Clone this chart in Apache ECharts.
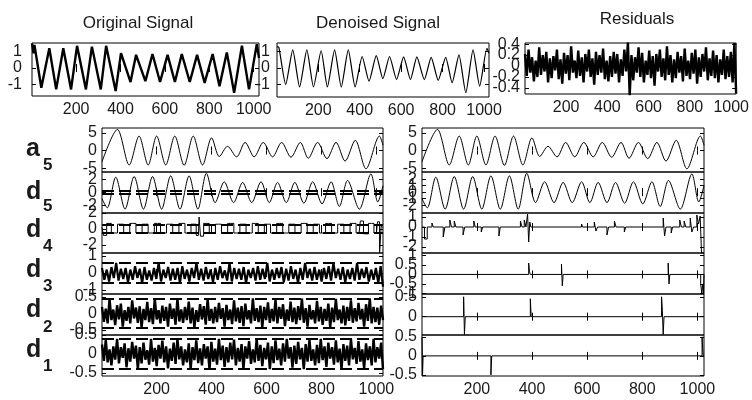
<!DOCTYPE html>
<html>
<head>
<meta charset="utf-8">
<title>Wavelet denoising</title>
<script src="https://cdn.jsdelivr.net/npm/echarts@6/dist/echarts.min.js"></script>
<style>
  html, body { margin: 0; padding: 0; background: #fff; }
  #main { width: 752px; height: 400px; }
</style>
</head>
<body>
<div id="main"></div>
<script>
// ---- data (x = sample index 1..1024) ----
var xTicks = [200, 400, 600, 800, 1000];

// top row: extrema of the signals
var original = [[1,1.5],[8,0.9],[12,1.4],[43,-1.2],[79,1.2],[110,-1.3],[142,1.2],[177,-1.3],[204,1.35],[244,-1.3],
  [271,1.3],[311,-1.3],[335,1.35],[378,-1.4],[402,0.9],[445,-0.85],[470,0.8],[512,-0.8],[544,0.85],[578,-0.85],
  [612,0.8],[645,-0.85],[676,0.85],[712,-0.85],[745,0.8],[779,-0.9],[815,0.85],[846,-1.1],[879,0.95],[912,-1.5],
  [947,1.35],[979,-1.3],[1014,1.45],[1024,0.6]];
var denoised = [[1,1.3],[10,1.25],[43,-1.0],[77,1.1],[110,-1.15],[145,1.1],[177,-1.15],[214,1.05],[244,-1.15],[279,1.1],
  [311,-1.15],[345,1.1],[378,-1.15],[412,0.7],[445,-0.8],[480,0.75],[512,-0.65],[544,0.7],[578,-0.7],[612,0.68],
  [645,-0.7],[676,0.68],[712,-0.7],[745,0.65],[779,-0.75],[815,0.65],[846,-0.9],[879,0.8],[912,-1.5],[947,1.1],
  [979,-1.1],[1014,1.2],[1024,0.9]];
var residuals = [0.22,-0.18,0.3,-0.12,0.16,-0.28,0.1,-0.2,0.34,-0.16,0.2,-0.1,0.26,-0.3,0.14,-0.22,0.18,-0.08,0.3,-0.24,
  0.12,-0.32,0.24,-0.14,0.2,-0.26,0.36,-0.12,0.1,-0.22,0.28,-0.18,0.16,-0.3,0.22,-0.1,0.3,-0.2,0.14,-0.34,
  0.26,-0.16,0.2,-0.12,0.32,-0.24,0.1,-0.28,0.18,-0.2,0.26,-0.14,0.22,-0.3,0.12,-0.18,0.3,-0.1,0.43,-0.54,
  0.2,-0.26,0.16,-0.12,0.34,-0.2,0.24,-0.3,0.1,-0.16,0.28,-0.22,0.18,-0.36,0.22,-0.1,0.3,-0.2,0.14,-0.26,
  0.36,-0.16,0.2,-0.3,0.12,-0.22,0.26,-0.12,0.18,-0.28,0.32,-0.18,0.1,-0.24,0.24,-0.14,0.3,-0.32,0.16,-0.2,
  0.22,-0.1,0.34,-0.26,0.14,-0.18,0.28,-0.22,0.2,-0.3,0.12,-0.16,0.3,-0.24,0.18,-0.2,0.26,-0.3,0.42,-0.5];

// decomposition: approximation a5 and detail d5 (same in both columns)
var a5 = [[1,-3.2],[57,6.0],[100,-4.1],[136,4.1],[169,-4.1],[200,4.1],[233,-4.1],[266,4.1],[300,-4.2],[333,4.1],
  [367,-4.1],[400,3.6],[428,-1.7],[458,1.2],[491,-1.8],[522,2.3],[555,-1.8],[588,2.3],[622,-1.8],[655,2.3],
  [689,-1.9],[723,2.3],[752,-2.2],[786,2.3],[820,-2.3],[853,2.3],[886,-3.0],[923,2.9],[962,-5.2],[1011,4.1],[1024,1.5]];
var d5 = [[1,-1.0],[20,-2.4],[51,2.3],[85,-2.6],[118,2.4],[152,-2.6],[185,2.4],[218,-2.6],[251,2.5],[285,-2.6],
  [318,2.5],[350,-2.6],[381,2.9],[413,-1.6],[446,1.6],[480,-1.6],[513,1.5],[546,-1.6],[580,1.6],[610,-1.6],
  [640,1.5],[672,-1.6],[703,1.5],[736,-1.7],[768,1.6],[802,-1.8],[835,1.6],[865,-2.2],[895,1.8],[938,-2.6],
  [980,2.8],[1005,-1.5],[1024,1.0]];

// left column: raw details d4..d1
var d4Raw = [[1,0.2],[12,-0.8],[24,0.7],[46,-0.5],[69,0.6],[91,-0.5],[113,0.7],[136,-0.5],[158,0.6],[180,-0.5],
  [203,0.7],[225,-0.5],[247,0.6],[270,-0.5],[292,0.7],[314,-0.5],[336,0.6],[352,-0.8],[357,1.5],[362,-0.9],
  [380,0.7],[403,-0.5],[425,0.6],[447,-0.5],[470,0.7],[492,-0.5],[514,0.6],[537,-0.5],[559,0.7],[581,-0.5],
  [603,0.6],[626,-0.5],[648,0.7],[670,-0.5],[692,0.6],[715,-0.5],[737,0.7],[759,-0.5],[781,0.6],[804,-0.5],
  [826,0.7],[848,-0.5],[870,0.6],[893,-0.5],[915,0.7],[937,-0.5],[946,1.0],[960,-0.6],[982,0.7],[1000,-0.5],
  [1008,0.9],[1015,-3.0],[1020,0.4],[1024,0.2]];
var d3Raw = [0.3,-0.4,0.2,-0.5,0.35,-0.3,0.6,-0.45,0.25,-0.35,0.3,-0.55,0.2,-0.4,0.4,-0.3,0.25,-0.6,0.35,-0.4,
  0.15,-0.45,0.3,-0.35,0.6,-0.5,0.2,-0.3,0.35,-0.45,0.25,-0.4,0.3,-0.6,0.4,-0.35,0.2,-0.5,0.3,-0.3,
  0.6,-0.4,0.25,-0.45,0.35,-0.35,0.2,-0.55,0.3,-0.4,0.4,-0.3,0.15,-0.45,0.6,-0.5,0.3,-0.35,0.25,-0.4,
  0.35,-0.6,0.2,-0.3,0.3,-0.45,0.4,-0.4,0.25,-0.35,0.6,-0.5,0.2,-0.4,0.3,-0.3,0.35,-0.55,0.25,-0.45,
  0.4,-0.35,0.2,-0.6,0.3,-0.4,0.6,-0.3,0.25,-0.45,0.35,-0.4,0.2,-0.5,0.3,-0.35,0.4,-0.45,0.6,-0.3,
  0.25,-0.4,0.35,-0.55,0.2,-0.35,0.3,-0.45,0.6,-0.4,0.25,-0.3,0.35,-0.5,0.2,-0.4,0.3,-0.6,0.4,-0.8];
var d2Raw = [0.2,-0.25,0.15,-0.3,0.45,-0.2,0.12,-0.35,0.25,-0.18,0.3,-0.4,0.1,-0.22,0.2,
  -0.3,0.4,-0.15,0.18,-0.28,0.22,-0.42,0.14,-0.2,0.35,-0.26,0.16,-0.32,0.45,-0.18,
  0.1,-0.3,0.24,-0.22,0.2,-0.4,0.3,-0.16,0.15,-0.34,0.46,-0.24,0.12,-0.28,0.2,
  -0.2,0.36,-0.3,0.18,-0.42,0.1,-0.25,0.28,-0.18,0.22,-0.34,0.44,-0.22,0.14,-0.3,
  0.2,-0.26,0.32,-0.16,0.16,-0.4,0.26,-0.2,0.12,-0.32,0.4,-0.24,0.18,-0.28,0.22,
  -0.38,0.3,-0.18,0.1,-0.3,0.46,-0.22,0.16,-0.26,0.24,-0.42,0.2,-0.2,0.34,-0.28,
  0.14,-0.24,0.42,-0.3,0.2,-0.16,0.28,-0.38,0.12,-0.22,0.36,-0.26,0.18,-0.32,0.22,
  -0.2,0.45,-0.28,0.16,-0.4,0.26,-0.18,0.1,-0.3,0.38,-0.24,0.2,-0.34,0.14,-0.22,
  0.3,-0.42,0.18,-0.26,0.44,-0.2,0.12,-0.3,0.24,-0.36,0.2,-0.22,0.4,-0.28,0.16,
  -0.24,0.32,-0.18,0.14,-0.4,0.28,-0.22,0.46,-0.3,0.2,-0.26,0.18,-0.34,0.24,-0.2];
var d1Raw = [0.25,-0.18,0.38,-0.22,0.12,-0.3,0.2,-0.15,0.4,-0.25,0.18,-0.1,0.28,-0.35,0.15,
  -0.2,0.32,-0.12,0.22,-0.4,0.18,-0.25,0.3,-0.15,0.1,-0.28,0.4,-0.2,0.16,-0.32,
  0.24,-0.12,0.35,-0.22,0.2,-0.38,0.14,-0.18,0.3,-0.26,0.4,-0.14,0.2,-0.3,0.12,
  -0.22,0.28,-0.4,0.18,-0.16,0.36,-0.24,0.15,-0.3,0.26,-0.12,0.2,-0.42,0.32,-0.2,
  0.14,-0.28,0.4,-0.16,0.22,-0.34,0.18,-0.22,0.3,-0.14,0.38,-0.3,0.16,-0.2,0.26,
  -0.4,0.2,-0.12,0.34,-0.26,0.12,-0.22,0.4,-0.18,0.24,-0.32,0.16,-0.14,0.3,-0.4,
  0.2,-0.24,0.36,-0.16,0.14,-0.3,0.28,-0.2,0.4,-0.12,0.18,-0.36,0.22,-0.26,0.32,
  -0.14,0.16,-0.4,0.26,-0.2,0.38,-0.18,0.12,-0.3,0.24,-0.24,0.4,-0.16,0.2,-0.34,
  0.3,-0.12,0.18,-0.28,0.36,-0.22,0.14,-0.4,0.26,-0.18,0.22,-0.3,0.4,-0.14,0.16,
  -0.26,0.34,-0.2,0.12,-0.38,0.28,-0.16,0.2,-0.3,0.4,-0.22,0.18,-0.12,0.3,-0.4];
// thresholds drawn dashed on the left column: d5, d4, d3, d2, d1
var thresholds = [0.25, 0.5, 0.6, 0.44, 0.4];

// right column: thresholded details, [x, level held until next x]
var d4Thr = [[1,0],[10,-1.2],[20,0],[37,0.4],[42,0],[78,-1.0],[84,0],[102,0.7],[108,0],[118,0.6],[124,0],
  [150,-0.8],[156,0],[189,0.6],[194,0],[216,-0.5],[221,0],[280,-0.9],[285,0],[358,0.6],[364,0],[372,0.7],
  [378,0],[384,1.3],[388,-1.5],[392,0.5],[396,0],[580,0.3],[583,0],[626,0.5],[632,-0.4],[638,0],[672,-0.8],
  [678,0],[699,0.6],[705,0],[735,-0.5],[740,0],[876,0.9],[881,-0.9],[886,0],[905,-0.6],[910,0],[936,0.7],
  [942,0],[952,0.6],[958,0],[974,0.9],[980,-0.5],[986,0],[998,1.2],[1004,0.3],[1010,1.1],[1015,-2.6],[1024,-2.6]];
var d3Thr = [[1,0],[388,0.6],[391,0.15],[394,0],[507,0.55],[510,-0.6],[513,0],[894,0.6],[897,-0.5],[900,0],
  [1012,-0.5],[1016,-1.0],[1019,-0.5],[1022,-1.0],[1024,0]];
var d2Thr = [[1,0],[152,0.5],[155,-0.45],[158,0],[394,0.45],[397,0],[870,0.5],[873,0.15],[876,-0.45],[879,0],[1024,0]];
var d1Thr = [[1,0.5],[3,-0.5],[5,0],[251,-0.5],[254,0],[1017,0.5],[1021,0],[1024,0]];

// ---- chart ----
var FONT = '"Liberation Sans", Arial, sans-serif';
var TXT = '#1a1a1a';
var chart = echarts.init(document.getElementById('main'));

// sample positions for evenly sampled coefficient lists
function spread(arr) {
    return arr.map(function (v, i) { return [1 + i * 1023 / (arr.length - 1), v]; });
}
function plain(v) { return String(v); }

var grids = [], xAxes = [], yAxes = [], series = [];

function panel(box, yRange, yTicks, xLabels, lines, yMargin) {
    var gi = grids.length;
    grids.push({
        left: box[0], top: box[1], width: box[2], height: box[3],
        show: true, borderColor: '#000', borderWidth: 1, containLabel: false
    });
    var tick = { inside: true, length: 4, lineStyle: { color: '#000' } };
    var label = { fontFamily: FONT, fontSize: 16, color: TXT, formatter: plain, hideOverlap: false };
    var xi = xAxes.length, yi = yAxes.length;
    xAxes.push({
        gridIndex: gi, type: 'value', min: 1, max: 1024, position: 'bottom',
        splitLine: { show: false }, axisLine: { show: false },
        axisTick: Object.assign({ customValues: xTicks }, tick),
        axisLabel: Object.assign({ show: xLabels, customValues: xTicks, margin: 6 }, label)
    });
    xAxes.push({
        gridIndex: gi, type: 'value', min: 1, max: 1024, position: 'top',
        splitLine: { show: false }, axisLine: { show: false },
        axisTick: Object.assign({ customValues: xTicks }, tick),
        axisLabel: { show: false }
    });
    // y tick labels spread over three stacked left axes so that crowded labels all stay visible
    for (var k = 0; k < 3; k++) {
        var part = yTicks.filter(function (v, i) { return i % 3 === k; });
        if (!part.length) continue;
        yAxes.push({
            gridIndex: gi, type: 'value', min: yRange[0], max: yRange[1], position: 'left',
            splitLine: { show: false }, axisLine: { show: false },
            axisTick: k === 0 ? Object.assign({ customValues: yTicks }, tick) : { show: false },
            axisLabel: Object.assign({ customValues: part, margin: yMargin || 5 }, label)
        });
    }
    yAxes.push({
        gridIndex: gi, type: 'value', min: yRange[0], max: yRange[1], position: 'right',
        splitLine: { show: false }, axisLine: { show: false },
        axisTick: Object.assign({ customValues: yTicks }, tick),
        axisLabel: { show: false }
    });
    lines.forEach(function (l) {
        var s = {
            type: 'line', xAxisIndex: xi, yAxisIndex: yi,
            data: l.data, symbol: 'none', silent: true, animation: false,
            smooth: l.smooth || false, step: l.step || false,
            lineStyle: { color: '#000', width: l.width || 1 }
        };
        if (l.thr) {
            s.markLine = {
                silent: true, symbol: 'none', animation: false, label: { show: false },
                lineStyle: { color: '#000', width: 2, type: [12, 5] },
                data: [{ yAxis: l.thr }, { yAxis: -l.thr }]
            };
        }
        series.push(s);
    });
}

// top row
panel([32, 43, 227, 53], [-1.7, 1.52], [-1, 0, 1], true, [{ data: original, width: 2.4 }], 10);
panel([277, 43, 212, 54], [-1.76, 1.52], [-1, 0, 1], true, [{ data: denoised, smooth: 0.2, width: 1.2 }], 7);
panel([525, 43, 216, 51], [-0.51, 0.42], [-0.4, -0.2, 0, 0.2, 0.4], true, [{ data: spread(residuals), width: 2.4 }], 5);

// decomposition, left column (raw) and right column (thresholded)
var rowTops = [128, 172, 213, 253, 294, 335];
var rowH = [44, 41, 40, 41, 41, 41];
var colLeft = [102, 422], colW = [281, 282];

panel([colLeft[0], rowTops[0], colW[0], rowH[0]], [-6.1, 6.4], [-5, 0, 5], false, [{ data: a5, smooth: 0.3 }]);
panel([colLeft[0], rowTops[1], colW[0], rowH[1]], [-3.2, 3.1], [-2, 0, 2], false, [{ data: d5, smooth: 0.3, thr: thresholds[0] }]);
panel([colLeft[0], rowTops[2], colW[0], rowH[2]], [-3.0, 2.0], [-2, 0, 2], false, [{ data: d4Raw, step: 'middle', thr: thresholds[1] }]);
panel([colLeft[0], rowTops[3], colW[0], rowH[3]], [-1.24, 1.18], [-1, 0, 1], false, [{ data: spread(d3Raw), width: 2.2, thr: thresholds[2] }]);
panel([colLeft[0], rowTops[4], colW[0], rowH[4]], [-0.65, 0.59], [-0.5, 0, 0.5], false, [{ data: spread(d2Raw), width: 2.4, thr: thresholds[3] }]);
panel([colLeft[0], rowTops[5], colW[0], rowH[5]], [-0.58, 0.5], [-0.5, 0, 0.5], true, [{ data: spread(d1Raw), width: 2.4, thr: thresholds[4] }]);

panel([colLeft[1], rowTops[0], colW[1], rowH[0]], [-6.1, 6.4], [-5, 0, 5], false, [{ data: a5, smooth: 0.3 }]);
panel([colLeft[1], rowTops[1], colW[1], rowH[1]], [-3.2, 3.1], [-2, -1, 0, 1, 2], false, [{ data: d5, smooth: 0.3 }]);
panel([colLeft[1], rowTops[2], colW[1], rowH[2]], [-2.6, 1.4], [-2, -1, 0, 1], false, [{ data: d4Thr, step: 'end' }]);
panel([colLeft[1], rowTops[3], colW[1], rowH[3]], [-1.03, 1.13], [-1, -0.5, 0, 0.5, 1], false, [{ data: d3Thr, step: 'end' }]);
panel([colLeft[1], rowTops[4], colW[1], rowH[4]], [-0.46, 0.57], [-0.5, 0, 0.5], false, [{ data: d2Thr, step: 'end' }]);
panel([colLeft[1], rowTops[5], colW[1], rowH[5]], [-0.53, 0.55], [-0.5, 0, 0.5], true, [{ data: d1Thr, step: 'end' }]);

// titles and row names
var titles = [['Original Signal', 138, 23], ['Denoised Signal', 378, 23], ['Residuals', 637, 19]];
var rowNames = [['a', '5'], ['d', '5'], ['d', '4'], ['d', '3'], ['d', '2'], ['d', '1']];
var rowBase = [[157, 171], [200, 212], [238, 252], [278, 292], [318, 333], [358, 372]];

var graphics = [];
titles.forEach(function (t) {
    graphics.push({
        type: 'text', x: t[1], y: t[2], silent: true,
        style: { text: t[0], fontFamily: FONT, fontSize: 17, fill: TXT, align: 'center', verticalAlign: 'middle' }
    });
});
rowNames.forEach(function (n, i) {
    graphics.push({
        type: 'text', x: 26, y: rowBase[i][0] - 8, silent: true,
        style: { text: n[0], fontFamily: FONT, fontSize: 25, fontWeight: 'bold', fill: TXT, align: 'left', verticalAlign: 'middle' }
    });
    graphics.push({
        type: 'text', x: 43, y: rowBase[i][1] - 5.5, silent: true,
        style: { text: n[1], fontFamily: FONT, fontSize: 17, fontWeight: 'bold', fill: TXT, align: 'left', verticalAlign: 'middle' }
    });
});

chart.setOption({
    animation: false,
    backgroundColor: '#fff',
    grid: grids,
    xAxis: xAxes,
    yAxis: yAxes,
    series: series,
    graphic: graphics
});
</script>
</body>
</html>
